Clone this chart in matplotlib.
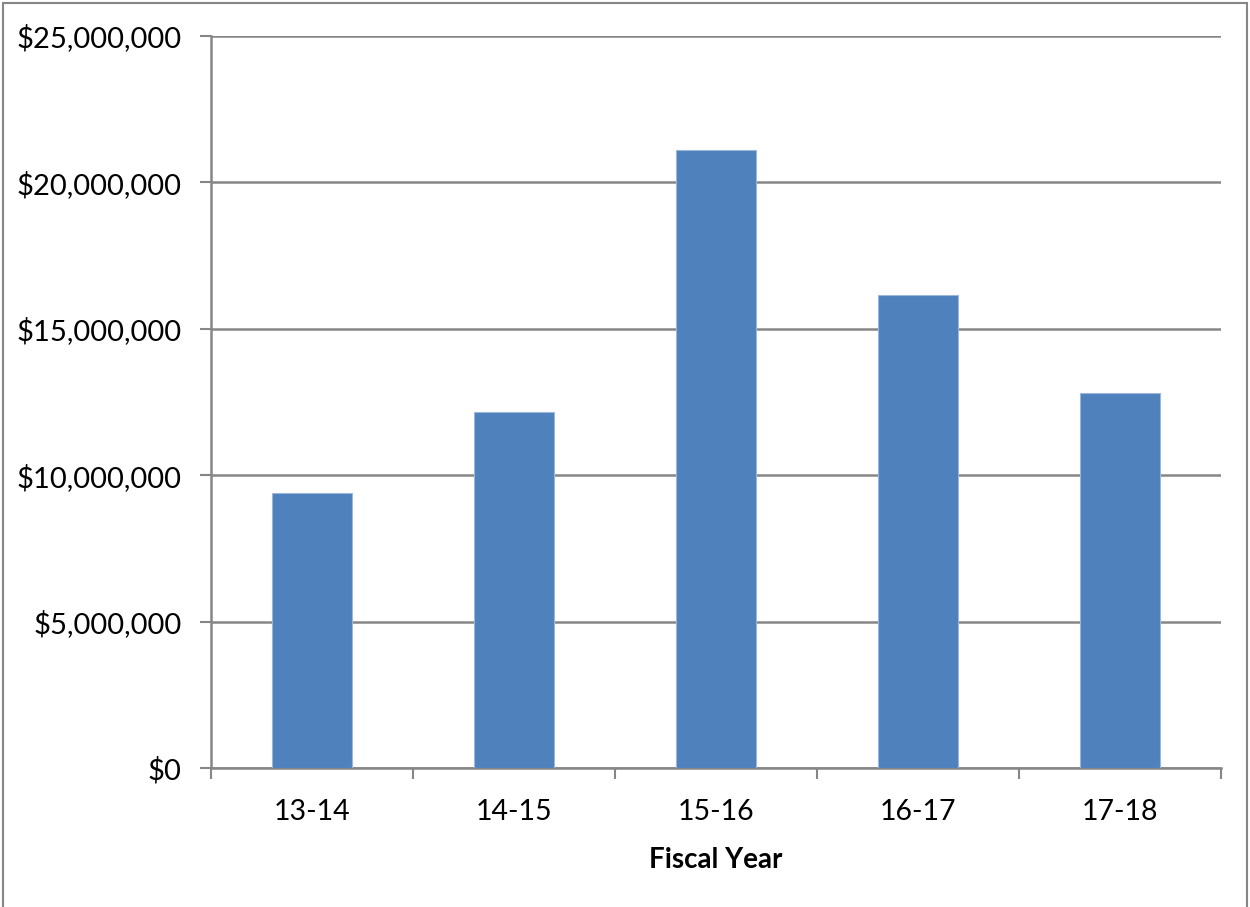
import matplotlib.pyplot as plt
import matplotlib.ticker as ticker
from matplotlib.patches import Rectangle
import numpy as np

plt.rcParams['font.family'] = ['Lato', 'DejaVu Sans']

# Funding by fiscal year
fiscal_years = ['13-14', '14-15', '15-16', '16-17', '17-18']
amounts = [9390000, 12170000, 21090000, 16170000, 12800000]

bar_color = '#4F81BD'
grid_color = '#868686'

fig = plt.figure(figsize=(12.5, 9.07), dpi=100)
ax = fig.add_axes([211/1250, 139/907, 1010/1250, 732/907])

x = np.arange(len(fiscal_years))
ax.bar(x, amounts, width=0.4, color=bar_color, edgecolor='#9db7da',
       linewidth=0.8, zorder=3)

ax.set_xlim(-0.5, len(fiscal_years) - 0.5)
ax.set_ylim(0, 25000000)

# y axis: dollar ticks with horizontal gridlines
ax.yaxis.set_major_locator(ticker.MultipleLocator(5000000))
ax.yaxis.set_major_formatter(ticker.FuncFormatter(lambda v, p: f'${v:,.0f}'))
ax.grid(axis='y', color=grid_color, linewidth=1.8, zorder=0)

# x axis: category labels centred, tick marks on boundaries
ax.set_xticks(x)
ax.set_xticklabels(fiscal_years)
ax.set_xticks(np.arange(len(fiscal_years) + 1) - 0.5, minor=True)
ax.tick_params(axis='x', which='major', length=0, pad=22, labelsize=20.5)
ax.tick_params(axis='x', which='minor', length=8, width=1.5,
               color=grid_color, direction='out')
ax.tick_params(axis='y', length=8, width=1.5, color=grid_color,
               pad=13, labelsize=21)

for side in ['top', 'right']:
    ax.spines[side].set_visible(False)
for side in ['left', 'bottom']:
    ax.spines[side].set_color(grid_color)
    ax.spines[side].set_linewidth(1.8)

ax.set_xlabel('Fiscal Year', fontsize=20, fontweight='bold', labelpad=16)

# outer chart border
fig.patches.append(Rectangle((3/1250, -0.01), 1244/1250, 904/907 + 0.01,
                             transform=fig.transFigure, fill=False,
                             edgecolor=grid_color, linewidth=1.5))

fig.savefig('out.png', dpi=100)
